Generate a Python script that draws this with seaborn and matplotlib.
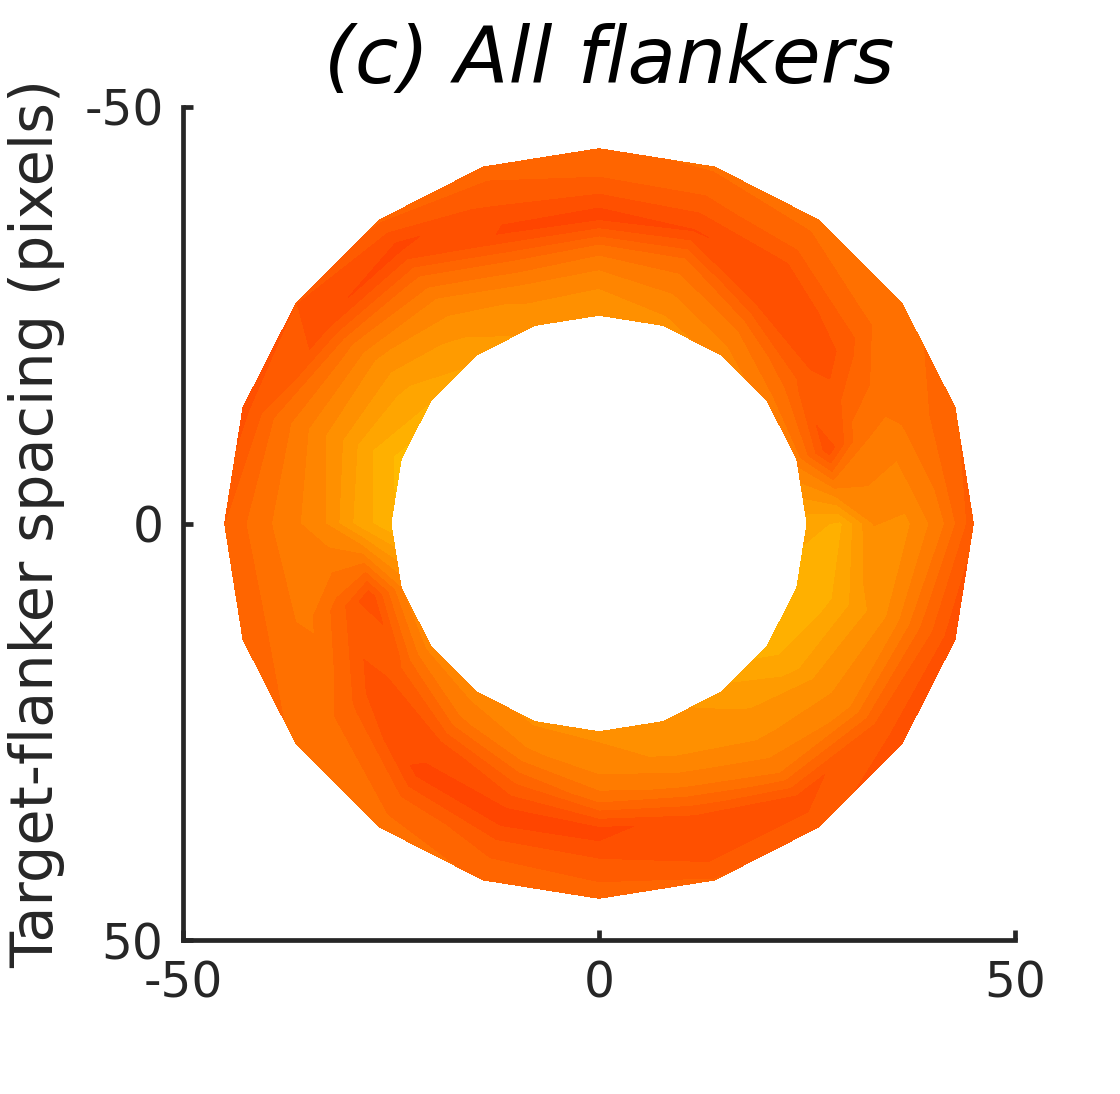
import numpy as np
import matplotlib
matplotlib.use("Agg")
import matplotlib.pyplot as plt
from matplotlib.colors import LinearSegmentedColormap
import seaborn as sns

# ---- data ----
angles_deg = [0, 18, 36, 54, 72, 90, 108, 126, 144, 162,
              180, 198, 216, 234, 252, 270, 288, 306, 324, 342]
radii = [25, 29, 33, 37, 41, 45]

ring_25 = [2.0, 1.0, 1.2, 2.8, 3.8, 4.0, 4.0, 4.5, 4.5, 5.0,
           1.0, 0.5, 1.7, 2.8, 3.6, 3.6, 3.8, 4.5, 5.4, 5.4]
ring_29 = [1.5, 1.5, 2.2, 3.6, 4.0, 4.5, 5.2, 6.0, 7.3, 9.0,
           2.2, 1.8, 2.7, 3.6, 4.4, 4.3, 5.0, 6.0, 7.3, 8.9]
ring_33 = [4.2, 3.0, 3.8, 4.3, 5.6, 6.2, 7.6, 8.75, 9.0, 7.0,
           4.2, 3.6, 4.0, 4.8, 6.5, 6.2, 6.3, 8.75, 9.0, 6.0]
ring_37 = [4.0, 4.4, 4.7, 5.8, 8.4, 9.6, 9.7, 9.4, 7.3, 5.5,
           5.3, 5.1, 6.0, 6.8, 9.4, 9.6, 9.2, 9.0, 7.8, 5.5]
ring_41 = [5.5, 6.9, 7.5, 8.75, 9.0, 8.0, 7.8, 7.2, 6.2, 6.5,
           6.2, 6.6, 9.0, 9.5, 8.0, 7.6, 7.6, 7.3, 6.5, 6.5]
ring_45 = [8.0, 9.0, 9.0, 7.8, 7.4, 7.0, 6.8, 6.2, 6.5, 7.2,
           7.5, 8.75, 8.3, 7.3, 7.1, 6.9, 6.5, 6.2, 6.2, 7.3]

tick_vals = [-50, 0, 50]
title_text = "(c) All flankers"
ylabel_text = "Target-flanker spacing (pixels)"

# ---- style ----
sns.set_theme(style="ticks")
plt.rcParams['font.family'] = ['DejaVu Sans']

# ---- build polar grid ----
rings = np.array([ring_25, ring_29, ring_33, ring_37, ring_41, ring_45])
theta = np.deg2rad(np.array(angles_deg + [360]))
Z = np.concatenate([rings, rings[:, :1]], axis=1)
R, T = np.meshgrid(np.array(radii, dtype=float), theta, indexing="ij")
X = R * np.cos(T)
Y = R * np.sin(T)

cmap = LinearSegmentedColormap.from_list(
    "warm", [(1.0, 192 / 255, 0.0), (1.0, 128 / 255, 0.0), (1.0, 64 / 255, 0.0)])

fig = plt.figure(figsize=(11.2, 10.94), dpi=100)
ax = fig.add_axes([183 / 1120, 1 - 940 / 1094, 832 / 1120, 833 / 1094])

levels = np.linspace(0, 10, 13)
ax.contourf(X, Y, Z, levels=levels, cmap=cmap, vmin=0, vmax=10)

ax.set_xlim(-50, 50)
ax.set_ylim(50, -50)
ax.set_xticks(tick_vals)
ax.set_yticks(tick_vals)
ax.set_xticklabels([str(v) for v in tick_vals])
ax.set_yticklabels([str(v) for v in tick_vals])

dark = "#262626"
for s in ["top", "right"]:
    ax.spines[s].set_visible(False)
for s in ["left", "bottom"]:
    ax.spines[s].set_linewidth(3.4)
    ax.spines[s].set_color(dark)
ax.tick_params(axis="both", direction="in", length=7, width=3.4,
               color=dark, labelcolor=dark, labelsize=35, pad=14)

ax.set_ylabel(ylabel_text, fontsize=42.5, color=dark)
ax.yaxis.set_label_coords(-0.142, 0.5)
ax.set_title(title_text, fontsize=57, style="italic", color="black",
             x=0.512, pad=17)

fig.savefig("out.png", dpi=100, facecolor="white")
